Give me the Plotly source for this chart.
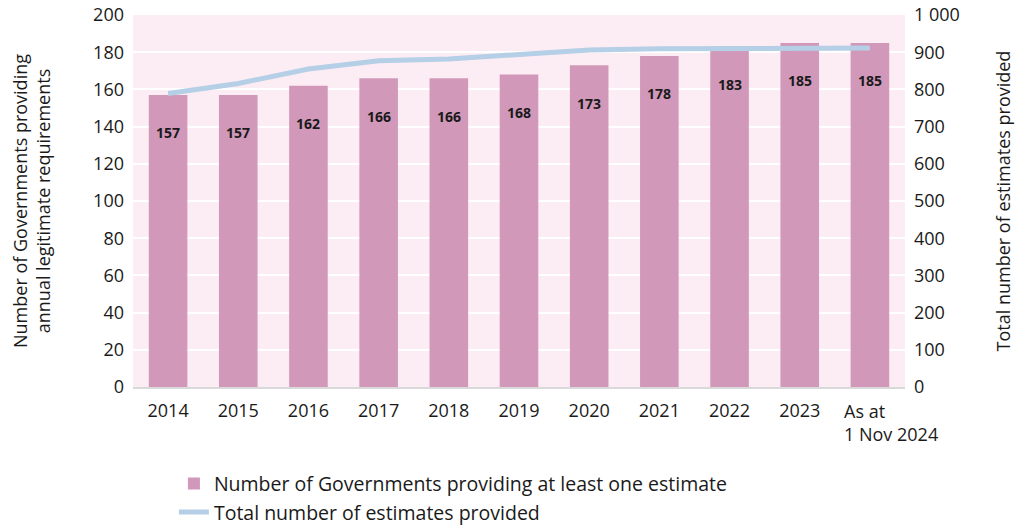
import plotly.graph_objects as go

categories = ["2014", "2015", "2016", "2017", "2018", "2019", "2020", "2021", "2022", "2023", "As at<br>1 Nov 2024"]
governments = [157, 157, 162, 166, 166, 168, 173, 178, 183, 185, 185]
estimates = [789, 816, 855, 877, 882, 894, 906, 909, 909, 911, 911]
left_ticks = [0, 20, 40, 60, 80, 100, 120, 140, 160, 180, 200]
right_ticks = [0, 100, 200, 300, 400, 500, 600, 700, 800, 900, 1000]
right_tick_text = ["0", "100", "200", "300", "400", "500", "600", "700", "800", "900", "1 000"]

FONT = "Open Sans"
BAR = "#d298ba"
LINE = "#b4cfe6"
BG = "#fcedf4"
TXT = "#1a1a1a"
FS = 18

fig = go.Figure()
fig.add_trace(go.Bar(
    x=categories, y=governments, name="Number of Governments providing at least one estimate",
    marker=dict(color=BAR, line=dict(width=0)), yaxis="y",
))
fig.add_trace(go.Scatter(
    x=categories, y=estimates, name="Total number of estimates provided",
    mode="lines", line=dict(color=LINE, width=5), yaxis="y2",
))

for i, v in enumerate(governments):
    fig.add_annotation(x=i, y=v, yref="y", xref="x", text=f"<b>{v}</b>", showarrow=False,
                       yshift=-38, font=dict(family=FONT, size=14, color=TXT))

# x tick labels: last one left-aligned as in the reference
tick_text = list(categories[:-1]) + [""]
fig.add_annotation(x=len(categories) - 1, y=0, xref="x", yref="y", text=categories[-1],
                   showarrow=False, xanchor="left", yanchor="top", align="left",
                   xshift=-28, yshift=-10, font=dict(family=FONT, size=FS, color=TXT))

fig.update_layout(
    width=1017, height=527,
    margin=dict(l=133, r=112, t=15, b=140, autoexpand=False),
    paper_bgcolor="white", plot_bgcolor=BG,
    font=dict(family=FONT, size=FS, color=TXT),
    bargap=0.45,
    showlegend=True,
    legend=dict(orientation="v", x=0.053, xanchor="left", y=-0.208, yanchor="top",
                font=dict(family=FONT, size=19.5, color=TXT), tracegroupgap=0, itemwidth=30),
    xaxis=dict(type="category", range=[-0.5, len(categories) - 0.5], showgrid=False, showline=True,
               linecolor="#d9d9d9", linewidth=2, ticks="", tickmode="array",
               tickvals=list(range(len(categories))), ticktext=tick_text, ticklabelstandoff=6,
               tickfont=dict(family=FONT, size=FS, color=TXT), fixedrange=True),
    yaxis=dict(range=[0, 200], tickvals=left_ticks, showgrid=True, gridcolor="white", gridwidth=2,
               zeroline=False, ticks="", ticklabelstandoff=8,
               tickfont=dict(family=FONT, size=FS, color=TXT),
               title=dict(text="Number of Governments providing<br>annual legitimate requirements",
                          font=dict(family=FONT, size=FS, color=TXT), standoff=37)),
    yaxis2=dict(range=[0, 1000], tickvals=right_ticks, ticktext=right_tick_text, overlaying="y",
                side="right", showgrid=False, zeroline=False, ticks="", ticklabelstandoff=8,
                tickfont=dict(family=FONT, size=FS, color=TXT),
                title=dict(text="Total number of estimates provided",
                           font=dict(family=FONT, size=FS, color=TXT), standoff=38)),
)

fig.write_html("out.html")
